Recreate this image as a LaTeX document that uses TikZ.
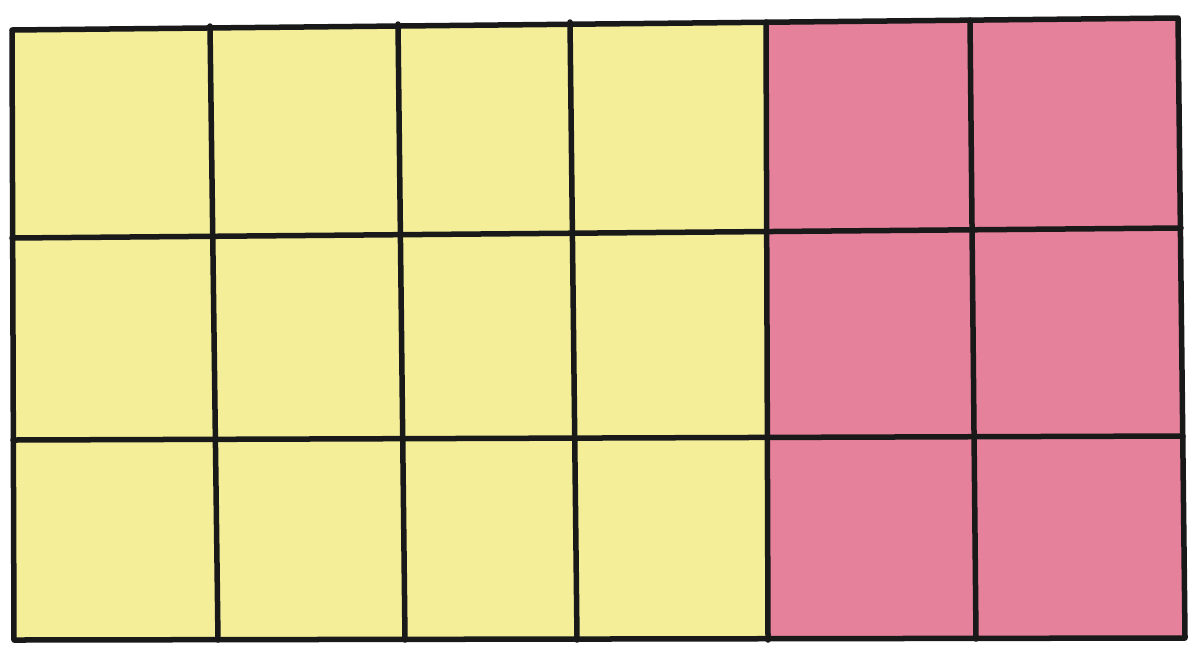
\documentclass[tikz,border=0pt]{standalone}
\begin{document}
\begin{tikzpicture}[x=0.01cm,y=-0.01cm,
  gridline/.style={line width=0.055cm,draw=black!90,line cap=round,line join=round}]
\definecolor{yel}{HTML}{F4EE98}
\definecolor{pnk}{HTML}{E6819C}
\fill[white] (0,0) rectangle (1192,648);
\useasboundingbox (0,0) rectangle (1192,648);
% fills
\fill[yel] (12,30) -- (766,22) -- (768,640) -- (14,640) -- cycle;
\fill[pnk] (766,22) -- (1178,18) -- (1185,638) -- (768,640) -- cycle;
% outer frame
\draw[gridline] (12,30) -- (1178,18) -- (1185,638) -- (14,640) -- cycle;
% vertical lines
\draw[gridline] (210,26) -- (218,640);
\draw[gridline] (398,24) -- (405,640);
\draw[gridline] (570,22) -- (577,640);
\draw[gridline] (766,22) -- (768,640);
\draw[gridline] (970,20) -- (976,639);
% horizontal lines
\draw[gridline] (12,238) -- (1181,228);
\draw[gridline] (13,440) -- (1183,436);
\end{tikzpicture}
\end{document}
